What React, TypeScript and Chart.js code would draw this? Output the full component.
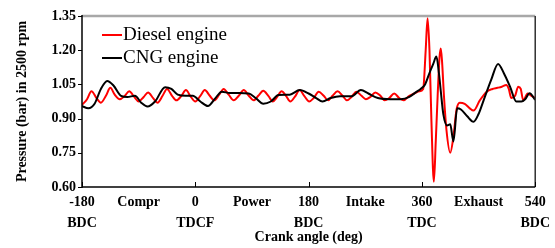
import { useEffect, useRef } from 'react';
import { Chart, registerables } from 'chart.js';

Chart.register(...registerables);

const dieselAngles = [
  -180, -172, -165, -157, -150, -142, -135, -128, -120, -112, -105, -97, -90, -82, -75, -67, -60, -52, -45, -37,
  -30, -22, -15, -7, 0, 8, 15, 23, 30, 38, 45, 53, 61, 69, 77, 85, 93, 100, 108, 116,
  123, 130, 137, 144, 151, 158, 166, 173, 181, 188, 196, 204, 211, 218, 226, 234, 241, 248, 256, 264,
  271, 278, 286, 294, 301, 308, 316, 324, 331, 340, 348, 356, 362, 366, 369, 372, 375, 379, 382, 385,
  388, 390, 392, 395, 399, 405, 410, 415, 420, 428, 436, 442, 452, 463, 472, 480, 487, 494, 498, 502,
  508, 513, 517, 521, 528, 534, 540,
];
const dieselPressure = [
  0.96, 0.985, 1.02, 0.99, 0.97, 1.0, 1.035, 1.005, 0.985, 1.0, 1.02, 0.995, 0.975, 0.995, 1.015, 0.99, 0.97, 1.0, 1.03, 1.0,
  0.98, 1.0, 1.025, 0.995, 0.975, 1.0, 1.025, 1.0, 0.98, 1.005, 1.03, 1.005, 0.98, 1.0, 1.025, 1.0, 0.98, 1.0, 1.022, 1.0,
  0.975, 0.995, 1.02, 1.0, 0.975, 0.995, 1.025, 1.0, 0.975, 0.99, 1.018, 1.0, 0.98, 1.0, 1.02, 1.0, 0.98, 0.995, 1.018, 1.0,
  0.985, 0.995, 1.015, 1.0, 0.98, 0.99, 1.01, 0.99, 0.98, 1.0, 1.01, 1.02, 1.03, 1.2, 1.34, 1.2, 0.9, 0.623, 0.8, 1.0,
  1.17, 1.208, 1.15, 1.0, 0.85, 0.75, 0.82, 0.94, 0.97, 0.965, 0.945, 0.935, 0.98, 1.018, 1.03, 1.035, 1.04, 1.047, 1.03, 0.99,
  1.0, 1.04, 1.03, 0.98, 1.01, 1.0, 0.99,
];

const cngAngles = [
  -180, -170, -160, -150, -140, -130, -118, -108, -96, -86, -76, -64, -48, -38, -28, -15, -4, 8, 20, 32,
  42, 55, 70, 85, 96, 108, 120, 132, 150, 166, 180, 192, 202, 215, 230, 248, 263, 275, 290, 310,
  326, 340, 350, 358, 365, 372, 378, 383, 387, 390, 394, 400, 405, 410, 416, 422, 432, 442, 450, 458,
  470, 481, 490, 500, 510, 518, 524, 531, 540,
];
const cngPressure = [
  0.955, 0.945, 0.965, 1.03, 1.065, 1.045, 1.0, 0.995, 1.0, 0.97, 0.953, 0.975, 1.038, 1.03, 1.005, 1.0, 1.0, 0.975, 0.955, 0.99,
  1.018, 1.012, 1.012, 1.01, 0.99, 0.965, 0.975, 1.003, 1.005, 1.025, 1.01, 0.99, 0.975, 0.99, 0.998, 0.998, 1.025, 1.01, 0.99, 0.985,
  0.985, 0.995, 1.015, 1.03, 1.05, 1.1, 1.14, 1.172, 1.1, 1.02, 0.92, 0.87, 0.875, 0.8, 0.945, 0.94, 0.91, 0.886, 0.92, 0.98,
  1.07, 1.14, 1.1, 1.04, 0.975, 0.975, 0.985, 1.011, 0.982,
];

const yTicks = [0.6, 0.75, 0.9, 1.05, 1.2, 1.35];
const xTickValues = [-180, -90, 0, 90, 180, 270, 360, 450, 540];
const xTickLabels: (string | string[])[] = [
  ['-180', 'BDC'], 'Compr', ['0', 'TDCF'], 'Power', ['180', 'BDC'], 'Intake', ['360', 'TDC'], 'Exhaust', ['540', 'BDC'],
];
const markedAngles = [-180, 0, 180, 360, 540];
const seriesNames = ['Diesel engine', 'CNG engine'];
const seriesColors = ['#ff0000', '#000000'];

const SERIF = '"Liberation Serif", "Times New Roman", serif';

const framePlugin = {
  id: 'frame',
  afterDatasetsDraw(chart: any) {
    const { ctx, chartArea, scales } = chart;
    const { left, right, top, bottom } = chartArea;
    const line = (x1: number, y1: number, x2: number, y2: number) => {
      ctx.beginPath();
      ctx.moveTo(x1, y1);
      ctx.lineTo(x2, y2);
      ctx.stroke();
    };
    ctx.save();
    ctx.lineCap = 'butt';
    ctx.strokeStyle = '#a8a8a8';
    ctx.lineWidth = 2.5;
    line(left, top, right, top);
    ctx.strokeStyle = '#303030';
    ctx.lineWidth = 1.5;
    line(right, top, right, bottom);
    ctx.strokeStyle = '#000';
    ctx.lineWidth = 1.5;
    line(left, top - 1, left, bottom + 1);
    line(left, bottom, right, bottom);
    ctx.lineWidth = 1;
    for (const a of markedAngles) {
      const px = Math.round(scales.x.getPixelForValue(a)) + 0.5;
      line(px, bottom, px, bottom - 5);
    }
    for (const v of yTicks) {
      const py = Math.round(scales.y.getPixelForValue(v)) + 0.5;
      line(left - 4, py, left, py);
    }
    // legend
    ctx.font = `19px ${SERIF}`;
    ctx.textBaseline = 'middle';
    ctx.textAlign = 'left';
    seriesNames.forEach((name, i) => {
      const ly = top + 19 + i * 23;
      ctx.strokeStyle = seriesColors[i];
      ctx.lineWidth = 2;
      line(left + 20, ly, left + 40, ly);
      ctx.fillStyle = '#000';
      ctx.fillText(name, left + 41, ly);
    });
    ctx.restore();
  },
};

export default function App() {
  const canvasRef = useRef<HTMLCanvasElement | null>(null);

  useEffect(() => {
    if (!canvasRef.current) return;
    const chart = new Chart(canvasRef.current, {
      type: 'line',
      data: {
        datasets: [
          {
            label: seriesNames[0],
            data: dieselAngles.map((a, i) => ({ x: a, y: dieselPressure[i] })),
            borderColor: seriesColors[0],
            borderWidth: 2,
            pointRadius: 0,
            cubicInterpolationMode: 'monotone',
            order: 2,
          },
          {
            label: seriesNames[1],
            data: cngAngles.map((a, i) => ({ x: a, y: cngPressure[i] })),
            borderColor: seriesColors[1],
            borderWidth: 2,
            pointRadius: 0,
            cubicInterpolationMode: 'monotone',
            order: 1,
          },
        ],
      },
      options: {
        animation: false,
        responsive: false,
        maintainAspectRatio: false,
        layout: { autoPadding: false, padding: { left: 0, right: 16, top: 16, bottom: 0 } },
        plugins: { legend: { display: false }, tooltip: { enabled: false } },
        scales: {
          x: {
            type: 'linear',
            min: -180,
            max: 540,
            grid: { display: false, drawTicks: false },
            border: { display: false },
            afterBuildTicks: (scale: any) => {
              scale.ticks = xTickValues.map((v) => ({ value: v }));
            },
            afterFit: (scale: any) => {
              scale.height = 61;
            },
            ticks: {
              autoSkip: false,
              maxRotation: 0,
              padding: 5,
              color: '#000',
              font: { family: SERIF, size: 14, weight: 'bold', lineHeight: 1.5 },
              callback: (v: any) => {
                const idx = xTickValues.indexOf(Number(v));
                return idx >= 0 ? xTickLabels[idx] : '';
              },
            },
            title: {
              display: true,
              text: 'Crank angle (deg)',
              color: '#000',
              font: { family: SERIF, size: 14, weight: 'bold' },
              padding: { top: 0, bottom: 2 },
            },
          },
          y: {
            type: 'linear',
            min: 0.6,
            max: 1.35,
            grid: { display: false, drawTicks: false },
            border: { display: false },
            afterBuildTicks: (scale: any) => {
              scale.ticks = yTicks.map((v) => ({ value: v }));
            },
            afterFit: (scale: any) => {
              scale.width = 82;
            },
            ticks: {
              autoSkip: false,
              padding: 6,
              color: '#000',
              font: { family: SERIF, size: 14, weight: 'bold' },
              callback: (v: any) => Number(v).toFixed(2),
            },
            title: {
              display: true,
              text: 'Pressure (bar) in 2500 rpm',
              color: '#000',
              font: { family: SERIF, size: 14, weight: 'bold' },
              padding: { top: 14, bottom: 0 },
            },
          },
        },
      },
      plugins: [framePlugin],
    } as any);
    return () => chart.destroy();
  }, []);

  return (
    <div style={{ position: 'fixed', left: 0, top: 0, width: 555, height: 248, background: '#fff' }}>
      <canvas ref={canvasRef} width={555} height={248} style={{ width: 555, height: 248, display: 'block' }} />
    </div>
  );
}
